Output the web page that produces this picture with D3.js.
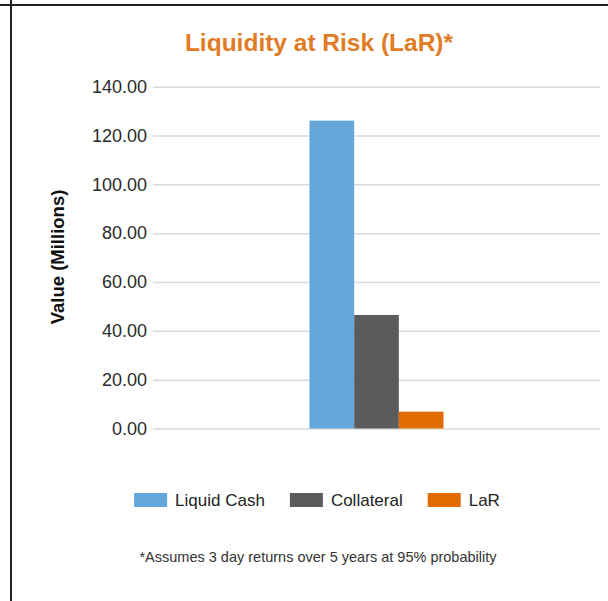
<!DOCTYPE html>
<html>
<head>
<meta charset="utf-8">
<script src="https://cdn.jsdelivr.net/npm/d3@7"></script>
<style>
  body { margin: 0; background: #fff; }
  svg { display: block; font-family: "Liberation Sans", Arial, sans-serif; }
</style>
</head>
<body>
<div id="chart"></div>
<script>
// chart data
const categories = [""];
const seriesNames = ["Liquid Cash", "Collateral", "LaR"];
const seriesValues = [126.1, 46.5, 6.9];
const seriesColors = ["#63a6dc", "#5b5b5b", "#e06b00"];
const yTicks = [0, 20, 40, 60, 80, 100, 120, 140];

const titleText = "Liquidity at Risk (LaR)*";
const yLabelText = "Value (Millions)";
const noteText = "*Assumes 3 day returns over 5 years at 95% probability";

const W = 608, H = 601;
const plot = {left: 153, right: 600, top: 86.7, bottom: 428.5};

const svg = d3.select("#chart")
    .append("svg")
    .attr("width", W)
    .attr("height", H);

// cell border (top + left)
svg.append("line")
    .attr("x1", 0).attr("x2", W).attr("y1", 5).attr("y2", 5)
    .attr("stroke", "#222").attr("stroke-width", 2);
svg.append("line")
    .attr("x1", 11).attr("x2", 11).attr("y1", 0).attr("y2", H)
    .attr("stroke", "#222").attr("stroke-width", 2);

// title
svg.append("text")
    .attr("x", 319)
    .attr("y", 51)
    .attr("text-anchor", "middle")
    .attr("font-size", 24.5)
    .attr("font-weight", "bold")
    .attr("fill", "#e27b25")
    .text(titleText);

// scales
const y = d3.scaleLinear()
    .domain([0, 140])
    .range([plot.bottom, plot.top]);

const x0 = d3.scaleBand()
    .domain(categories)
    .range([plot.left, plot.right])
    .paddingOuter(1.168);

const x1 = d3.scaleBand()
    .domain(seriesNames)
    .range([0, x0.bandwidth()]);

// y axis with gridlines
const yAxis = svg.append("g")
    .attr("transform", `translate(${plot.left},0)`)
    .call(d3.axisLeft(y)
        .tickValues(yTicks)
        .tickFormat(d3.format(".2f"))
        .tickSize(-(plot.right - plot.left))
        .tickPadding(6));
yAxis.select(".domain").remove();
yAxis.selectAll(".tick line")
    .attr("stroke", "#dadada")
    .attr("stroke-width", 1.5);
yAxis.selectAll(".tick text")
    .attr("font-size", 18)
    .attr("font-family", "Liberation Sans, Arial, sans-serif")
    .attr("fill", "#2b2b2b");

// y axis title
svg.append("text")
    .attr("transform", "translate(64,257) rotate(-90)")
    .attr("text-anchor", "middle")
    .attr("font-size", 18.5)
    .attr("font-weight", "bold")
    .attr("fill", "#111")
    .text(yLabelText);

// bars
const groups = svg.selectAll("g.cat")
    .data(categories)
    .enter()
    .append("g")
    .attr("class", "cat")
    .attr("transform", d => `translate(${x0(d)},0)`);

groups.selectAll("rect")
    .data(seriesNames.map((name, i) => ({name: name, value: seriesValues[i], color: seriesColors[i]})))
    .enter()
    .append("rect")
    .attr("x", d => x1(d.name))
    .attr("y", d => y(d.value))
    .attr("width", x1.bandwidth())
    .attr("height", d => y(0) - y(d.value))
    .attr("fill", d => d.color);

// legend
const legend = svg.append("g");
const swW = 33, swH = 14, swGap = 8, itemGap = 25;
let lx = 0;
seriesNames.forEach((name, i) => {
    const item = legend.append("g").attr("transform", `translate(${lx},0)`);
    item.append("rect")
        .attr("x", 0).attr("y", 493)
        .attr("width", swW).attr("height", swH)
        .attr("fill", seriesColors[i]);
    const t = item.append("text")
        .attr("x", swW + swGap)
        .attr("y", 506)
        .attr("font-size", 17)
        .attr("fill", "#222")
        .text(name);
    lx += swW + swGap + t.node().getComputedTextLength() + itemGap;
});
const legendW = lx - itemGap;
legend.attr("transform", `translate(${317 - legendW / 2},0)`);

// footnote
svg.append("text")
    .attr("x", 318)
    .attr("y", 562)
    .attr("text-anchor", "middle")
    .attr("font-size", 14.5)
    .attr("fill", "#333")
    .text(noteText);
</script>
</body>
</html>
